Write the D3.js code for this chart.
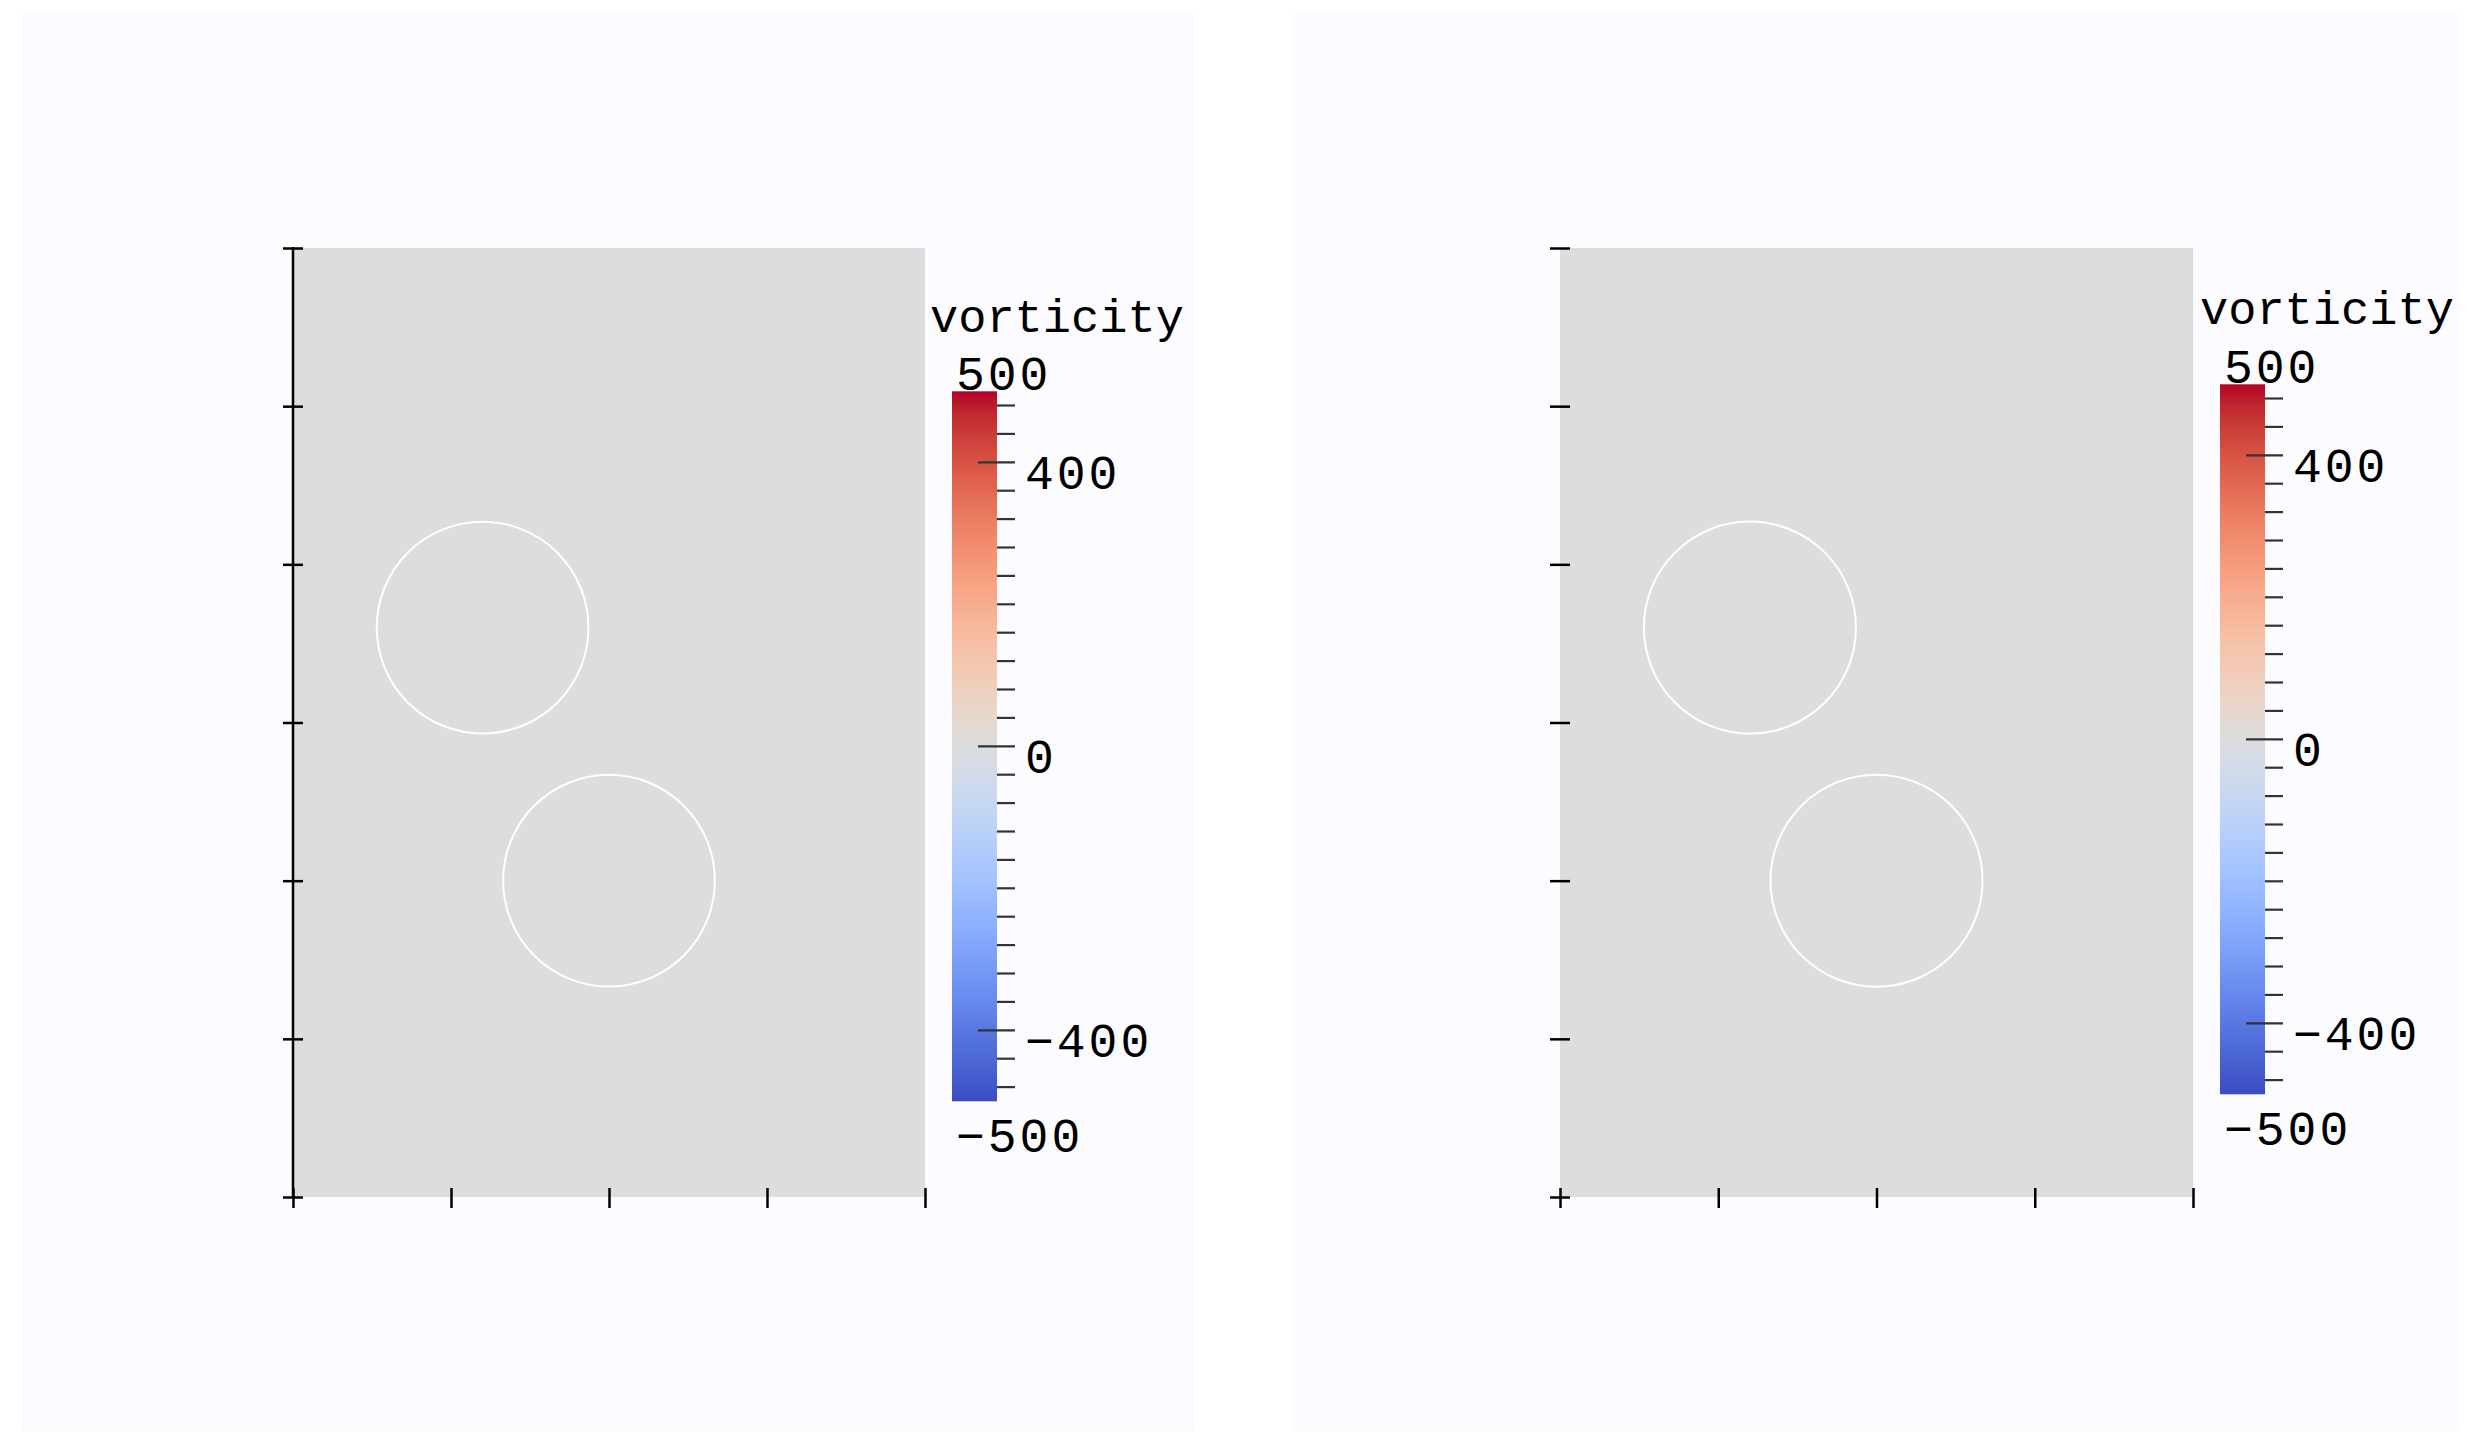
<!DOCTYPE html>
<html>
<head>
<meta charset="utf-8">
<script src="https://cdn.jsdelivr.net/npm/d3@7"></script>
<style>
html,body{margin:0;padding:0;background:#ffffff;}
svg{display:block;}
</style>
</head>
<body>
<svg id="chart" width="2479" height="1453"></svg>
<script>
// ---- data ----
const xTicks = [0, 0.5, 1.0, 1.5, 2.0];
const yTicks = [0, 0.5, 1.0, 1.5, 2.0, 2.5, 3.0];
const circleX = [0.6, 1.0];
const circleY = [1.8, 1.0];
const circleR = [0.335, 0.335];
const fieldValue = 0;               // vorticity over the whole domain
const cbarDomain = [-500, 500];
const cbarMajor = [-400, 0, 400];
const cbarMinor = d3.range(-480, 481, 40);
const cbarTitle = "vorticity";
// Cool-to-warm colormap stops (position, r, g, b)
const cmapPos = [0,0.03125,0.0625,0.09375,0.125,0.15625,0.1875,0.21875,0.25,0.28125,0.3125,0.34375,0.375,0.40625,0.4375,0.46875,0.5,0.53125,0.5625,0.59375,0.625,0.65625,0.6875,0.71875,0.75,0.78125,0.8125,0.84375,0.875,0.90625,0.9375,0.96875,1];
const cmapRGB = [[59,76,192],[68,90,204],[77,104,215],[87,117,225],[98,130,234],[108,142,241],[119,154,247],[130,165,251],[141,176,254],[152,185,255],[163,194,255],[174,201,253],[184,208,249],[194,213,244],[204,217,238],[213,219,230],[221,221,221],[229,216,209],[236,211,197],[241,204,185],[245,196,173],[247,187,160],[247,177,148],[247,166,135],[244,154,123],[241,141,111],[236,127,99],[229,112,88],[222,96,77],[213,80,66],[203,62,56],[192,40,47],[180,4,38]];

// ---- layout ----
const panels = [
  {bg:[22,13,1172,1419], plot:[293,925,248,1197], yLine:true,
   cbar:{x:952, w:45, top:391.3, bottom:1101.3}, titleX:930, titleY:331.5},
  {bg:[1293,13,1168,1419], plot:[1560,2193,248,1197], yLine:false,
   cbar:{x:2220, w:45, top:384.3, bottom:1094.3}, titleX:2200, titleY:323.5}
];

const svg = d3.select("#chart");
const color = d3.scaleLinear()
  .domain(cmapPos.map(p => cbarDomain[0] + p*(cbarDomain[1]-cbarDomain[0])))
  .range(cmapRGB.map(c => d3.rgb(c[0],c[1],c[2])))
  .interpolate(d3.interpolateRgb);

const defs = svg.append("defs");
const grad = defs.append("linearGradient").attr("id","cw")
  .attr("x1","0").attr("y1","1").attr("x2","0").attr("y2","0");
cmapPos.forEach((p,i) => grad.append("stop")
  .attr("offset", p)
  .attr("stop-color", d3.rgb(...cmapRGB[i]).formatHex()));

const monoFont = "'Liberation Mono', 'DejaVu Sans Mono', monospace";

panels.forEach(P => {
  const g = svg.append("g");
  g.append("rect").attr("x",P.bg[0]).attr("y",P.bg[1])
    .attr("width",P.bg[2]).attr("height",P.bg[3]).attr("fill","#fcfbff");

  const [x0,x1,yT,yB] = P.plot;
  const x = d3.scaleLinear().domain([0,2]).range([x0,x1]);
  const y = d3.scaleLinear().domain([0,3]).range([yB,yT]);

  // field
  g.append("rect").attr("x",x(0)).attr("y",y(3))
    .attr("width",x(2)-x(0)).attr("height",y(0)-y(3))
    .attr("fill", color(fieldValue));

  // circles
  g.selectAll("circle.cyl").data(circleX.map((cx,i)=>({cx, cy:circleY[i], r:circleR[i]})))
    .enter().append("circle")
    .attr("cx", d=>x(d.cx)).attr("cy", d=>y(d.cy))
    .attr("r", d=>x(d.r)-x(0))
    .attr("fill","none").attr("stroke","#ffffff").attr("stroke-width",2);

  // y axis ticks (crossing)
  const yAxis = d3.axisLeft(y).tickValues(yTicks).tickFormat("").tickSize(10).tickSizeOuter(0);
  const ya = g.append("g").attr("transform",`translate(${x0},0)`).call(yAxis);
  ya.select(".domain").remove();
  ya.selectAll(".tick line").attr("x1",-10).attr("x2",10)
    .attr("stroke","#000").attr("stroke-width",2.5);
  if (P.yLine) {
    g.append("line").attr("x1",x0).attr("x2",x0).attr("y1",y(3)-1).attr("y2",y(0))
      .attr("stroke","#000").attr("stroke-width",2.5);
  }

  // x axis ticks (crossing)
  const xAxis = d3.axisBottom(x).tickValues(xTicks).tickFormat("").tickSize(11).tickSizeOuter(0);
  const xa = g.append("g").attr("transform",`translate(0,${yB})`).call(xAxis);
  xa.select(".domain").remove();
  xa.selectAll(".tick line").attr("y1",-9).attr("y2",11)
    .attr("stroke","#000").attr("stroke-width",2.5);

  // colorbar
  const C = P.cbar;
  const cy = d3.scaleLinear().domain(cbarDomain).range([C.bottom, C.top]);
  g.append("rect").attr("x",C.x).attr("y",cy(cbarDomain[1]))
    .attr("width",C.w).attr("height",cy(cbarDomain[0])-cy(cbarDomain[1]))
    .attr("fill","url(#cw)");
  const right = C.x + C.w;
  g.selectAll("line.minor").data(cbarMinor).enter().append("line")
    .attr("x1", d => cbarMajor.includes(d) ? right-19 : right)
    .attr("x2", right+18)
    .attr("y1", d=>cy(d)).attr("y2", d=>cy(d))
    .attr("stroke","#333333").attr("stroke-width",2.2);
  const numAttrs = sel => sel.attr("font-family",monoFont).attr("font-size",48)
    .attr("letter-spacing",3).attr("fill","#000");
  g.selectAll("text.maj").data(cbarMajor).enter().append("text")
    .attr("x", right+28).attr("y", d=>cy(d)+26.5)
    .call(numAttrs)
    .text(d => d3.format("")(d).replace("-","\u2212"));
  g.append("text").attr("x",C.x+4).attr("y",cy(cbarDomain[1])-1.5)
    .call(numAttrs)
    .text(String(cbarDomain[1]));
  g.append("text").attr("x",C.x+4).attr("y",cy(cbarDomain[0])+51)
    .call(numAttrs)
    .text(String(cbarDomain[0]).replace("-","\u2212"));
  g.append("text").attr("x",P.titleX).attr("y",P.titleY)
    .attr("font-family",monoFont).attr("font-size",47).attr("fill","#000")
    .text(cbarTitle);
});
</script>
</body>
</html>
